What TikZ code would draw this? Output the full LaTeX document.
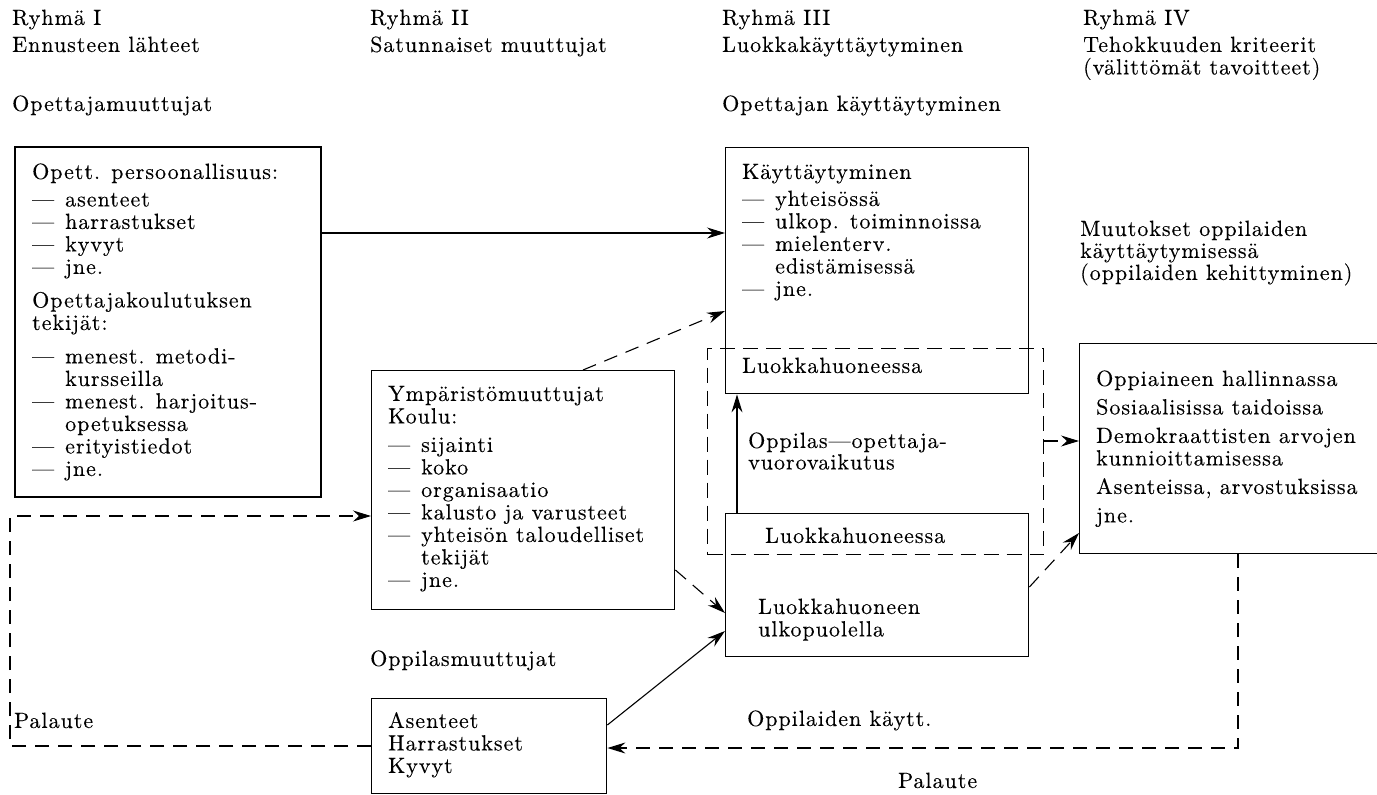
\documentclass[tikz,border=0pt]{standalone}
\usepackage{fontspec}
\setmainfont{lmroman10-regular.otf}[LetterSpace=4.5, FakeBold=0.2]
\usetikzlibrary{arrows.meta}
% dash in front of list items, and the matching indent for wrapped items
\newcommand\itemdash{\makebox[33pt][l]{—}}
\newcommand\itemskip{\hspace*{33pt}}
\begin{document}
\begin{tikzpicture}[x=1pt,y=-1pt,
  every node/.style={inner sep=0pt, font=\fontsize{22}{22.5}\selectfont},
  lbl/.style={anchor=north west, align=left},
  frame/.style={draw, line width=1.4pt, anchor=north west},
  dframe/.style={draw, line width=1.1pt, dash pattern=on 15pt off 8pt, anchor=north west},
  conn/.style={line width=1.1pt, -{Stealth[length=18pt,width=11pt,inset=6pt]}},
  dconn/.style={conn, dash pattern=on 14pt off 9pt}]
\useasboundingbox (0,0) rectangle (1377,795);

% ---------- column headings ----------
\node[lbl] (h1)  at (12,9)    {\strut Ryhmä I\\[4.5pt]Ennusteen lähteet};
\node[lbl] (h1b) at (12,95)   {\strut Opettajamuuttujat};
\node[lbl] (h2)  at (370,9)   {\strut Ryhmä II\\[4.5pt]Satunnaiset muuttujat};
\node[lbl] (h3)  at (722,9)   {\strut Ryhmä III\\[4.5pt]Luokkakäyttäytyminen};
\node[lbl] (h3b) at (722,95)  {\strut Opettajan käyttäytyminen};
\node[lbl] (h4)  at (1083,9)  {\strut Ryhmä IV\\[4.5pt]Tehokkuuden kriteerit\\(välittömät tavoitteet)};

% ---------- group I: teacher variables ----------
\node[frame, line width=1.8pt, minimum width=306pt, minimum height=350pt] (tbox) at (14,146) {};
\node[lbl] (tt) at (32,163) {\strut Opett. persoonallisuus:\\[5pt]
  \itemdash asenteet\\ \itemdash harrastukset\\ \itemdash kyvyt\\ \itemdash jne.\\[11pt]
  Opettajakoulutuksen\\ tekijät:\\[11pt]
  \itemdash menest. metodi-\\ \itemskip kursseilla\\
  \itemdash menest. harjoitus-\\ \itemskip opetuksessa\\
  \itemdash erityistiedot\\ \itemdash jne.};

% ---------- group II: environment variables ----------
\node[frame, minimum width=303pt, minimum height=239pt] (mbox) at (371,370) {};
\node[lbl] (mt) at (388,385) {\strut Ympäristömuuttujat\\ Koulu:\\[6pt]
  \itemdash sijainti\\ \itemdash koko\\ \itemdash organisaatio\\
  \itemdash kalusto ja varusteet\\ \itemdash yhteisön taloudelliset\\
  \itemskip tekijät\\ \itemdash jne.};

% ---------- pupil variables ----------
\node[lbl] (om) at (370,650) {\strut Oppilasmuuttujat};
\node[frame, minimum width=235pt, minimum height=95pt] (bbox) at (371,698) {};
\node[lbl] (bt) at (388,712) {\strut Asenteet\\ Harrastukset\\ Kyvyt};

% ---------- group III: classroom behaviour ----------
\node[frame, minimum width=303pt, minimum height=246pt] (k1) at (725,147) {};
\node[lbl] (kt) at (742,163) {\strut Käyttäytyminen\\[4.5pt]
  \itemdash yhteisössä\\ \itemdash ulkop. toiminnoissa\\
  \itemdash mielenterv.\\ \itemskip edistämisessä\\ \itemdash jne.};
\node[lbl] (kl1) at (742,357) {\strut Luokkahuoneessa};

\node[frame, minimum width=303pt, minimum height=143pt] (k2) at (725,513) {};
\node[lbl] (kl2) at (765,527) {\strut Luokkahuoneessa};
\node[lbl] (ku)  at (758,598) {\strut Luokkahuoneen\\ ulkopuolella};

\node[dframe, minimum width=336pt, minimum height=206pt] (dr) at (707,348) {};
\node[lbl] (ov) at (748,432) {\strut Oppilas—opettaja-\\[-1pt]vuorovaikutus};

% ---------- group IV: effectiveness criteria ----------
\node[lbl] (mu) at (1080,220) {\strut Muutokset oppilaiden\\[-0.5pt]käyttäytymisessä\\[-0.5pt](oppilaiden kehittyminen)};
\node[frame, minimum width=310pt, minimum height=210pt] (rbox) at (1079,343) {};
\node[lbl] (rt) at (1096,370) {\strut Oppiaineen hallinnassa\\[6pt]
  Sosiaalisissa taidoissa\\[6pt]
  Demokraattisten arvojen\\ kunnioittamisessa\\[6pt]
  Asenteissa, arvostuksissa\\[6pt]
  jne.};

% ---------- feedback labels ----------
\node[lbl] (pl) at (14,712)  {\strut Palaute};
\node[lbl] (ok) at (747,710) {\strut Oppilaiden käytt.};
\node[lbl] (pb) at (898,772) {\strut Palaute};

% ---------- connectors ----------
\coordinate (a1) at ([yshift=-87pt]tbox.north east);
\draw[conn] (a1) -- (a1 -| k1.west);

\coordinate (a2) at ([xshift=212pt]mbox.north west);
\coordinate (a2e) at ([yshift=-164pt]k1.north west);
\draw[dconn] (a2) -- (a2e);

\coordinate (a9) at ([xshift=12pt]k2.north west);
\draw[conn] (a9) -- (a9 |- k1.south);

\coordinate (a3) at ([yshift=-93pt]dr.north east);
\draw[dconn] (a3) -- (a3 -| rbox.west);

\coordinate (a4) at ([yshift=-74pt]k2.north east);
\coordinate (a4e) at ([yshift=-190pt]rbox.north west);
\draw[dconn] (a4) -- (a4e);

\coordinate (a7) at ([yshift=-200pt]mbox.north east);
\coordinate (a7e) at ([yshift=-100pt]k2.north west);
\draw[dconn] (a7) -- (a7e);

\coordinate (a8) at ([yshift=-27pt]bbox.north east);
\coordinate (a8e) at ([yshift=-118pt]k2.north west);
\draw[conn] (a8) -- (a8e);

% feedback from the criteria back to the pupils
\coordinate (a5) at ([xshift=159pt]rbox.south west);
\coordinate (a5e) at ([yshift=-50pt]bbox.north east);
\draw[dconn] (a5) |- (a5e);

% feedback from the pupils round to the environment variables
\coordinate (a6) at ([yshift=-48pt]bbox.north west);
\coordinate (fb) at (10,600);
\coordinate (a6e) at ([yshift=-146pt]mbox.north west);
\draw[dconn] (a6) -- (a6 -| fb) -- (fb |- a6e) -- (a6e);
\end{tikzpicture}
\end{document}
